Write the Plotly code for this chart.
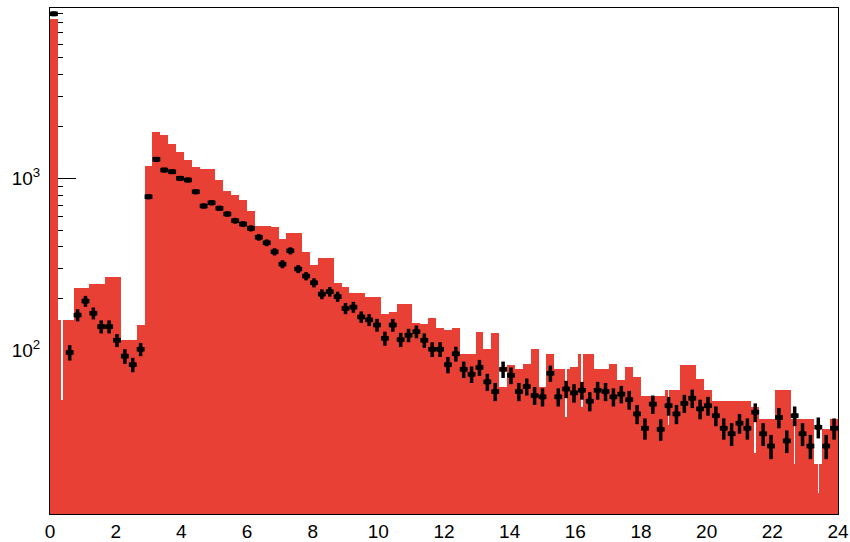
import plotly.graph_objects as go

# ---- data: 100 bins of width 0.24 from 0 to 24 ----
bin_start = 0.0
bin_width = 0.24

red_counts = [
    8400, 151, 151, 232, 232, 244, 244, 268, 268, 115, 115, 141,
    1183, 1863, 1782, 1581, 1415, 1277, 1168, 1128, 1128, 978, 844, 800, 748,
    649, 529, 529, 520, 443, 484, 484, 375, 314, 344, 344, 246, 235, 217, 217,
    206, 204, 163, 168, 186, 186, 144, 142, 154, 135,
    132, 135, 96, 96, 129, 102, 126, 62, 83, 78, 84, 102, 62, 96, 78, 78, 81,
    96, 96, 78, 78, 84, 68, 81,
    70, 55, 55, 55, 59, 59, 83, 83, 69, 59, 51, 51, 51, 51, 51, 47, 40, 40,
    59, 59, 40, 40, 40, 22, 35, 40,
]
red_err_low = [0] * 100
for i, e in {1: 99, 65: 37, 67: 49, 78: 22, 89: 21.5, 94: 18, 97: 7}.items():
    red_err_low[i] = e

data_counts = [
    9000, None, 97.7, 161, 194, 165, 138, 138, 115, 93, 83, 102,
    782, 1289, 1117, 1092, 1000, 978, 836, 691, 722, 670, 621, 568, 543,
    513, 455, 423, 375, 318, 380, 298, 271, 248, 213, 220, 206, 176, 179, 157,
    151, 141, 118, 141, 116, 123, 129, 115, 102, 102,
    83, 96, 78, 73, 80, 66, 58, 78, 72, 58, 62, 55, 54, 74, 54, 60, 57, 59,
    51, 59, 58, 54, 56, 52,
    43, 35.5, 49, 35, 48, 43, 49.5, 53, 46, 48, 42, 35.5, 33, 38, 35.5, 44,
    33, 28, 41, 30, 42, 33, 28, 36, 28, 35.5,
]
data_err = [
    150, 0, 10, 13, 14, 13, 12, 12, 10, 9, 8, 9,
    25, 35, 32, 32, 30, 30, 27, 24, 25, 24, 23, 22, 21,
    21, 20, 19, 18, 17, 18, 16, 15, 15, 14, 14, 14, 13, 13, 12,
    12, 12, 11, 12, 11, 11, 11, 11, 10, 10,
    9, 9.5, 8.5, 8, 8.5, 7.5, 7, 8.5, 8, 7, 7, 6.5, 6.5, 8, 6.5, 7, 7, 7,
    6.5, 7, 7, 6.5, 6.5, 6.5,
    5.5, 5, 6, 5, 6, 5.5, 6, 6.5, 6, 6, 5.5, 5, 5, 5, 5, 5.5,
    5, 4.5, 5.5, 4.5, 5.5, 5, 4.5, 5, 4.5, 5,
]

x_tick_vals = list(range(0, 25, 2))
y_tick_vals = [100, 1000]
y_tick_text = ["10<sup>2</sup>", "10<sup>3</sup>"]
y_minor_vals = [m * d for d in (10, 100, 1000) for m in range(2, 10)]

RED = "rgb(232,64,52)"
FONT = "Liberation Sans, Arial, Helvetica, sans-serif"

fig = go.Figure()

fig.add_trace(go.Bar(
    x0=bin_start + bin_width / 2, dx=bin_width, y=red_counts,
    width=bin_width,
    marker=dict(color=RED, line=dict(width=0)),
    error_y=dict(type="data", symmetric=False, array=[0] * 100,
                 arrayminus=red_err_low, color="white", thickness=1.6, width=0),
    showlegend=False,
))

fig.add_trace(go.Scatter(
    x0=bin_start + bin_width / 2, dx=bin_width, y=data_counts,
    mode="markers",
    marker=dict(symbol="square", size=5, color="black"),
    error_y=dict(type="data", array=data_err, color="black", thickness=3.5, width=0),
    error_x=dict(type="constant", value=bin_width / 2, color="black",
                 thickness=4.5, width=0),
    showlegend=False,
))

fig.update_layout(
    width=850, height=542,
    margin=dict(l=50, r=12, t=8, b=28, autoexpand=False),
    paper_bgcolor="white", plot_bgcolor="white",
    bargap=0,
    font=dict(family=FONT, size=19, color="black"),
)

fig.update_xaxes(
    range=[0, 24],
    tickmode="array", tickvals=x_tick_vals,
    ticks="inside", ticklen=14, tickcolor="black",
    showgrid=False, zeroline=False,
    showline=True, linecolor="black", linewidth=1, mirror=True,
    layer="below traces",
    automargin=False,
    ticklabelstandoff=0,
    tickfont=dict(family=FONT, size=19),
)

fig.update_yaxes(
    type="log",
    range=[1.053, 3.988],
    tickmode="array", tickvals=y_tick_vals, ticktext=y_tick_text,
    ticks="inside", ticklen=26, tickcolor="black",
    minor=dict(tickmode="array", tickvals=y_minor_vals, ticks="inside",
               ticklen=13, tickcolor="black", showgrid=False),
    showgrid=False, zeroline=False,
    showline=True, linecolor="black", linewidth=1, mirror=True,
    layer="below traces",
    automargin=False,
    ticklabelstandoff=5,
    tickfont=dict(family=FONT, size=19),
)

fig.write_html("out.html", config={"displayModeBar": False},
               post_script="document.body.style.margin='0px';")
